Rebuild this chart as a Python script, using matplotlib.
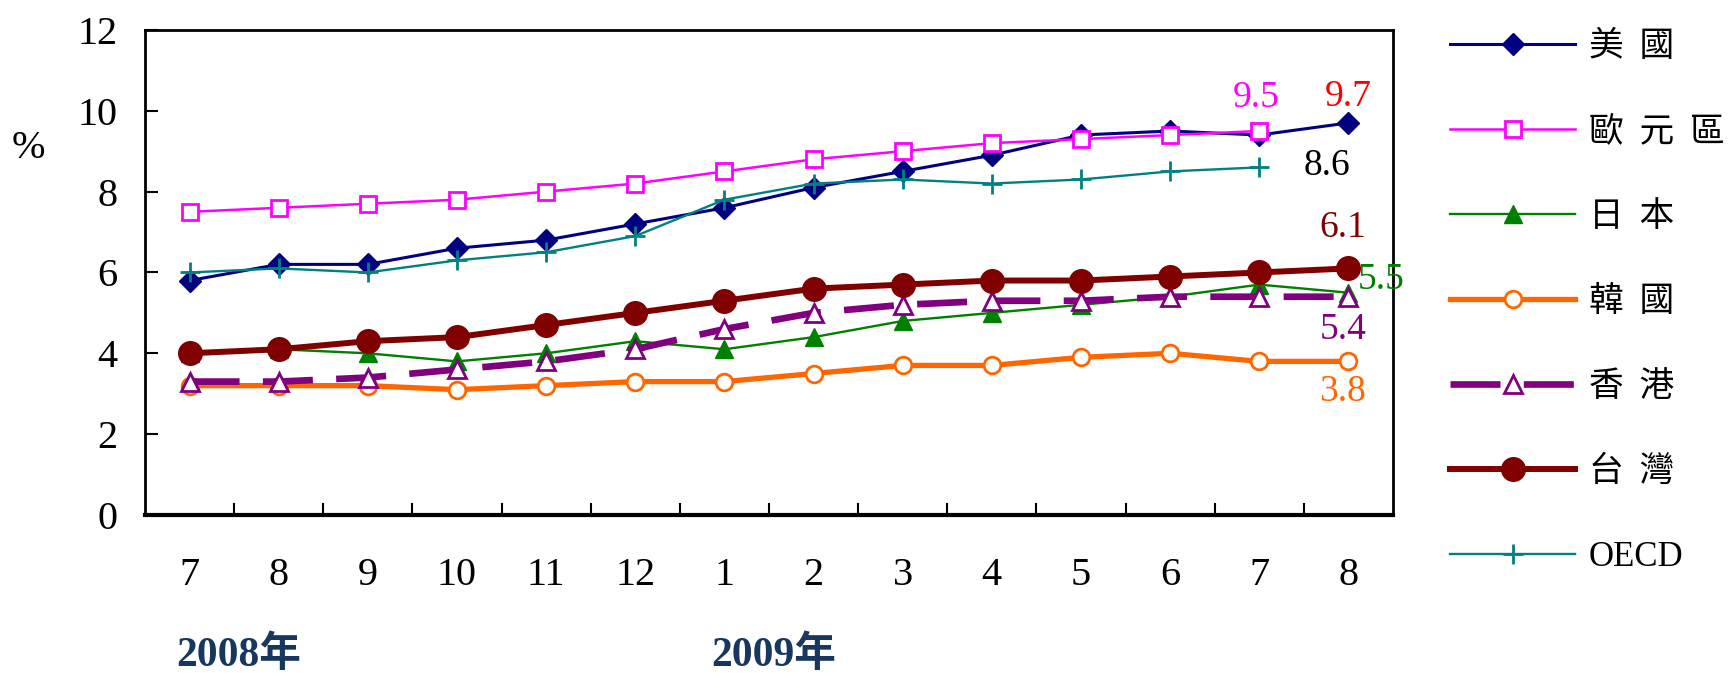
import matplotlib
matplotlib.use('Agg')
import matplotlib.pyplot as plt
from matplotlib.ticker import FixedLocator

plt.rcParams['font.family'] = ['Liberation Serif', 'Noto Sans CJK TC', 'DejaVu Sans']

# months: 2008/7 .. 2009/8
months = ['7', '8', '9', '10', '11', '12', '1', '2', '3', '4', '5', '6', '7', '8']
years = ['2008年', '2009年']
year_start = [0, 6]

us = [5.8, 6.2, 6.2, 6.6, 6.8, 7.2, 7.6, 8.1, 8.5, 8.9, 9.4, 9.5, 9.4, 9.7]
euro = [7.5, 7.6, 7.7, 7.8, 8.0, 8.2, 8.5, 8.8, 9.0, 9.2, 9.3, 9.4, 9.5]
japan = [4.0, 4.1, 4.0, 3.8, 4.0, 4.3, 4.1, 4.4, 4.8, 5.0, 5.2, 5.4, 5.7, 5.5]
korea = [3.2, 3.2, 3.2, 3.1, 3.2, 3.3, 3.3, 3.5, 3.7, 3.7, 3.9, 4.0, 3.8, 3.8]
hongkong = [3.3, 3.3, 3.4, 3.6, 3.8, 4.1, 4.6, 5.0, 5.2, 5.3, 5.3, 5.4, 5.4, 5.4]
taiwan = [4.0, 4.1, 4.3, 4.4, 4.7, 5.0, 5.3, 5.6, 5.7, 5.8, 5.8, 5.9, 6.0, 6.1]
oecd = [6.0, 6.1, 6.0, 6.3, 6.5, 6.9, 7.8, 8.2, 8.3, 8.2, 8.3, 8.5, 8.6]

fig = plt.figure(figsize=(17.28, 6.73), dpi=100)
ax = fig.add_axes([0.0839, 0.2348, 0.7222, 0.7207])

def xs(vals):
    return list(range(len(vals)))

sp = ' \u2009'
ax.plot(xs(us), us, color='#000080', lw=2.2, marker='D', ms=11,
        label=sp.join('美國'))
ax.plot(xs(euro), euro, color='#FF00FF', lw=1.8, marker='s', ms=12,
        mfc='white', mew=2, label=sp.join('歐元區'))
ax.plot(xs(japan), japan, color='#008000', lw=1.7, marker='^', ms=13,
        label=sp.join('日本'))
ax.plot(xs(korea), korea, color='#FF6600', lw=3.8, marker='o', ms=12,
        mfc='white', mew=2, label=sp.join('韓國'))
ax.plot(xs(hongkong), hongkong, color='#800080', lw=4.8, marker='^', ms=13,
        mfc='white', mew=2, dashes=(7.5, 3.5), label=sp.join('香港'))
ax.plot(xs(taiwan), taiwan, color='#800000', lw=4.3, marker='o', ms=17,
        label=sp.join('台灣'))
ax.plot(xs(oecd), oecd, color='#008080', lw=1.7, marker='+', ms=15,
        mew=2, label='OECD')

# end-value labels
def end_label(vals, color, dx, dy, ha='center'):
    i = len(vals) - 1
    ax.annotate(f'{vals[i]:.1f}', xy=(i, vals[i]), xytext=(dx, dy),
                textcoords='offset points', ha=ha, va='center',
                color=color, fontsize=27, annotation_clip=False)

end_label(euro, '#FF00FF', -2, 24)
end_label(us, '#FF0000', 0, 19)
end_label(oecd, 'black', 32, 1, ha='left')
end_label(taiwan, '#800000', -4, 29)
end_label(japan, '#008000', 7, 9, ha='left')
end_label(hongkong, '#800080', -4, -24)
end_label(korea, '#FF6600', -4, -22)

ax.set_xlim(-0.5, len(months) - 0.5)
ax.set_ylim(0, 12)
ax.set_yticks(range(0, 13, 2))
ax.set_xticks(range(len(months)))
ax.set_xticklabels(months)
ax.xaxis.set_minor_locator(FixedLocator([i + 0.5 for i in range(len(months) - 1)]))

ax.tick_params(axis='x', which='major', length=0, pad=30, labelsize=29)
ax.tick_params(axis='x', which='minor', direction='in', length=9, width=1.5)
ax.tick_params(axis='y', direction='in', length=9.5, width=1.5, pad=20,
               labelsize=29)

for s in ax.spines.values():
    s.set_linewidth(2)
    s.set_color('black')
ax.spines['bottom'].set_linewidth(3)

fig.text(28 / 1728, 1 - 149 / 673, '%', fontsize=29, ha='center', va='center')

for yr, i in zip(years, year_start):
    ax.annotate(yr, xy=(i - 0.15, 0), xycoords='data', xytext=(0, -101),
                textcoords='offset points', ha='left', va='center',
                fontsize=30, fontweight='bold', color='#17375E',
                annotation_clip=False)

ax.legend(loc='upper left', bbox_to_anchor=(1450 / 1728, 1 - 31 / 673),
          bbox_transform=fig.transFigure, frameon=False, fontsize=25,
          handlelength=3.6, handletextpad=0.4, labelspacing=1.5,
          borderaxespad=0, borderpad=0, numpoints=1)

fig.savefig('out.png', dpi=100)
